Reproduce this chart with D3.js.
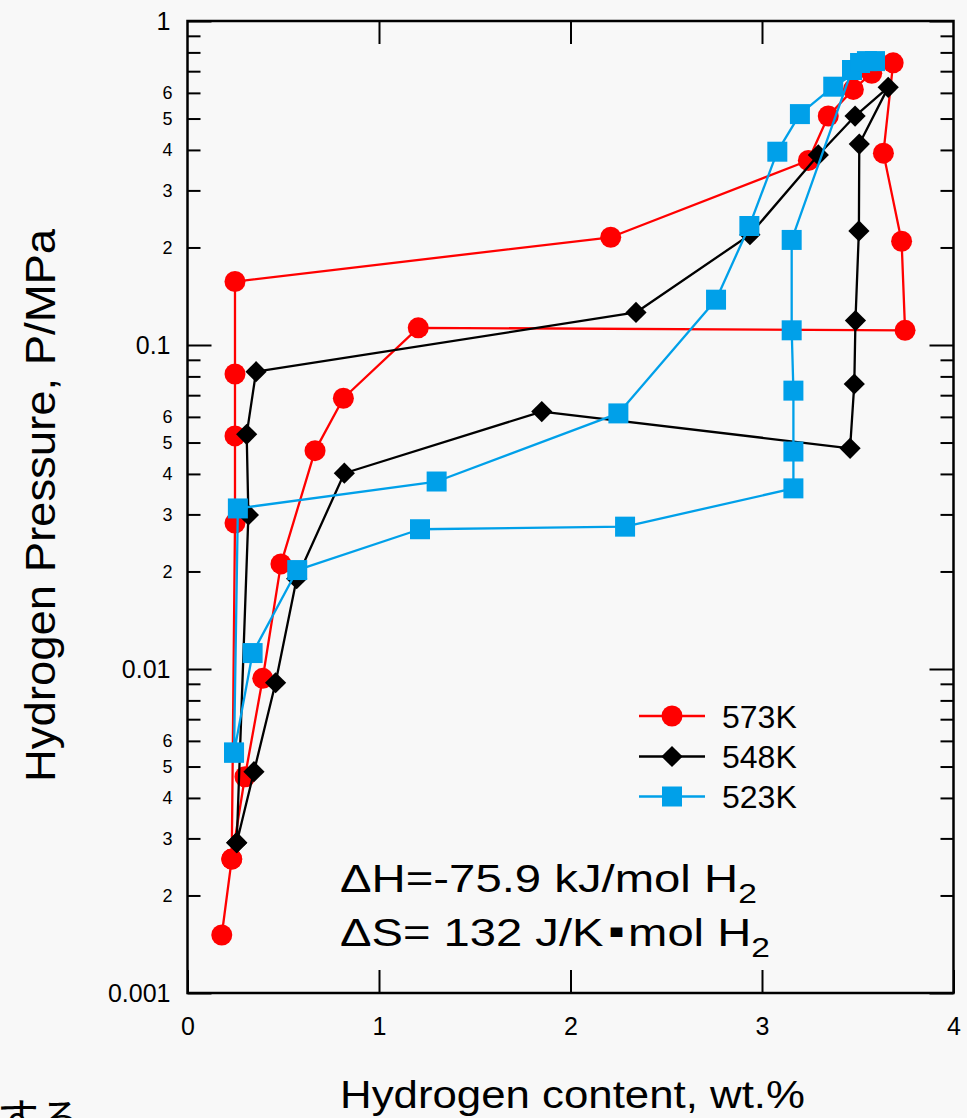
<!DOCTYPE html>
<html><head><meta charset="utf-8">
<script src="https://cdn.jsdelivr.net/npm/d3@7"></script>
<style>body{margin:0;background:#f8f8f8;} svg{display:block;background:#f8f8f8}</style>
</head><body><svg id="c" width="967" height="1118"></svg>
<script>
// ---------- data ----------
const xTicks = [0, 1, 2, 3, 4];
const xInnerTicks = [1, 2, 3];
const yMajorTicks = [0.001, 0.01, 0.1, 1];
const yMajorLabels = ["0.001", "0.01", "0.1", "1"];
const yMinorMultipliers = [2, 3, 4, 5, 6, 7, 8, 9];
const yMinorLabeled = [2, 3, 4, 5, 6];
const seriesNames = ["573K", "548K", "523K"];

const wt573 = [0.179,0.231,0.300,0.393,0.488,0.666,0.814,1.205,3.747,3.729,3.634,3.685,3.573,3.477,3.346,3.242,2.210,0.248,0.248,0.248,0.248,0.231];
const p573  = [0.00151,0.00259,0.00465,0.00936,0.0211,0.0472,0.0685,0.113,0.111,0.209,0.391,0.743,0.690,0.615,0.509,0.371,0.215,0.157,0.0814,0.0524,0.0282,0.00259];

const wt548 = [0.257,0.347,0.460,0.570,0.819,1.850,3.460,3.482,3.488,3.506,3.508,3.659,3.486,3.294,2.937,2.342,0.358,0.309,0.318,0.257];
const p548  = [0.00291,0.00482,0.00907,0.0190,0.0402,0.0623,0.048,0.0758,0.119,0.225,0.417,0.624,0.509,0.386,0.219,0.126,0.0827,0.053,0.0299,0.00291];

const wt523 = [0.243,0.340,0.573,1.214,2.285,3.164,3.164,3.164,3.155,3.155,3.470,3.512,3.548,3.590,3.372,3.198,3.080,2.934,2.760,2.250,1.301,0.263,0.243];
const p523  = [0.00552,0.0112,0.0202,0.0270,0.0275,0.0361,0.0469,0.0723,0.111,0.211,0.706,0.742,0.752,0.752,0.627,0.516,0.395,0.233,0.138,0.0615,0.0379,0.0313,0.00552];

// ---------- layout ----------
const L = 187.5, R = 953.5, T = 21, B = 993;
const svg = d3.select("#c");
const x = d3.scaleLinear().domain([0, 4]).range([L, R]);
const y = d3.scaleLog().domain([0.001, 1]).range([B, T]);
const FONT = "'Liberation Sans', Arial, sans-serif";

const yMinorTicks = [];
yMajorTicks.slice(0, 3).forEach(d => yMinorMultipliers.forEach(m => yMinorTicks.push(+(d * m).toPrecision(3))));

function styleAxis(g, fs) {
  g.select(".domain").remove();
  g.selectAll("line").attr("stroke", "#000").attr("stroke-width", 2);
  g.selectAll("text").attr("font-family", FONT).attr("font-size", fs).attr("fill", "#000");
}

// left axis
svg.append("g").attr("transform", `translate(${L},0)`)
  .call(d3.axisLeft(y).tickValues(yMajorTicks).tickSize(-24).tickPadding(17)
    .tickFormat(d => yMajorLabels[yMajorTicks.indexOf(d)]))
  .call(g => styleAxis(g, 25));
svg.append("g").attr("transform", `translate(${L},0)`)
  .call(d3.axisLeft(y).tickValues(yMinorTicks).tickSize(-13).tickPadding(15)
    .tickFormat(d => { const m = Math.round(d / Math.pow(10, Math.floor(Math.log10(d) + 1e-9))); return yMinorLabeled.includes(m) ? String(m) : ""; }))
  .call(g => styleAxis(g, 18));
// right axis
svg.append("g").attr("transform", `translate(${R},0)`)
  .call(d3.axisRight(y).tickValues(yMajorTicks).tickSize(-24).tickFormat(""))
  .call(g => styleAxis(g, 10));
svg.append("g").attr("transform", `translate(${R},0)`)
  .call(d3.axisRight(y).tickValues(yMinorTicks).tickSize(-13).tickFormat(""))
  .call(g => styleAxis(g, 10));
// bottom axis
svg.append("g").attr("transform", `translate(0,${B})`)
  .call(d3.axisBottom(x).tickValues(xTicks).tickSize(-23).tickPadding(24).tickFormat(d3.format("d")))
  .call(g => styleAxis(g, 25));
svg.append("g").attr("transform", `translate(0,${T})`)
  .call(d3.axisTop(x).tickValues(xInnerTicks).tickSize(-23).tickFormat(""))
  .call(g => styleAxis(g, 10));

// frame
svg.append("rect").attr("x", L).attr("y", T).attr("width", R - L).attr("height", B - T)
  .attr("fill", "none").attr("stroke", "#000").attr("stroke-width", 2.5);

// ---------- series ----------
const series = [
  { name: seriesNames[0], wt: wt573, p: p573, color: "#ff0000", sym: "circle" },
  { name: seriesNames[1], wt: wt548, p: p548, color: "#000000", sym: "diamond" },
  { name: seriesNames[2], wt: wt523, p: p523, color: "#00a0e9", sym: "square" }
];
function marker(g, s, cx, cy) {
  if (s.sym === "circle") g.append("circle").attr("cx", cx).attr("cy", cy).attr("r", 10.5).attr("fill", s.color);
  else if (s.sym === "square") g.append("path").attr("d", d3.symbol(d3.symbolSquare, 400)()).attr("transform", `translate(${cx},${cy})`).attr("fill", s.color);
  else g.append("path").attr("d", d3.symbol(d3.symbolSquare, 225)()).attr("transform", `translate(${cx},${cy}) rotate(45)`).attr("fill", s.color);
}
const line = d3.line().x(d => x(d[0])).y(d => y(d[1]));
series.forEach(s => {
  const pts = s.wt.map((w, i) => [w, s.p[i]]);
  const g = svg.append("g");
  g.append("path").attr("d", line(pts)).attr("fill", "none").attr("stroke", s.color).attr("stroke-width", 2.3).attr("stroke-linejoin", "round");
  pts.forEach(d => marker(g, s, x(d[0]), y(d[1])));
});

// ---------- legend ----------
const legY = [716, 756.5, 796.5];
series.forEach((s, i) => {
  const g = svg.append("g");
  g.append("line").attr("x1", 639).attr("x2", 705).attr("y1", legY[i]).attr("y2", legY[i]).attr("stroke", s.color).attr("stroke-width", 2.3);
  marker(g, s, 672, legY[i]);
  g.append("text").attr("x", 722).attr("y", legY[i] + 11.5).attr("font-family", FONT).attr("font-size", 32).attr("fill", "#000").text(s.name);
});

function fit(sel, x0, target) {
  const w = sel.node().getBBox().width;
  sel.attr("transform", `translate(${x0},0) scale(${target / w},1) translate(${-x0},0)`);
}

// ---------- annotation ----------
const a1 = svg.append("text").attr("x", 340).attr("y", 892).attr("font-family", FONT).attr("font-size", 38).attr("fill", "#000");
a1.append("tspan").text("ΔH=-75.9 kJ/mol H");
a1.append("tspan").attr("font-size", 27).attr("dy", 11).text("2");
fit(a1, 340, 417);
const a2 = svg.append("text").attr("x", 340).attr("y", 946).attr("font-family", FONT).attr("font-size", 38).attr("fill", "#000");
a2.append("tspan").text("ΔS= 132 J/K");
a2.append("tspan").attr("font-family", "'DejaVu Sans', sans-serif").attr("font-size", 19).attr("dx", 4).attr("dy", -9).text("▪");
a2.append("tspan").attr("dx", 3).attr("dy", 9).text("mol H");
a2.append("tspan").attr("font-size", 27).attr("dy", 11).text("2");
fit(a2, 340, 430);

// ---------- axis titles ----------
const xt = svg.append("text").attr("x", 340).attr("y", 1108).attr("font-family", FONT).attr("font-size", 38).attr("fill", "#000").text("Hydrogen content, wt.%");
fit(xt, 340, 465);
const ytg = svg.append("g").attr("transform", "translate(55,505) rotate(-90)");
const yt = ytg.append("text").attr("x", -277).attr("y", 0).attr("font-family", FONT).attr("font-size", 42).attr("fill", "#000").text("Hydrogen Pressure, P/MPa");
fit(yt, -277, 554);

// cut-off fragment at bottom-left (partially outside the page, as in the reference)
svg.append("text").attr("x", -3).attr("y", 1134).attr("font-family", "'Noto Sans CJK JP', sans-serif").attr("font-size", 42).attr("fill", "#000").text("する");
</script></body></html>
